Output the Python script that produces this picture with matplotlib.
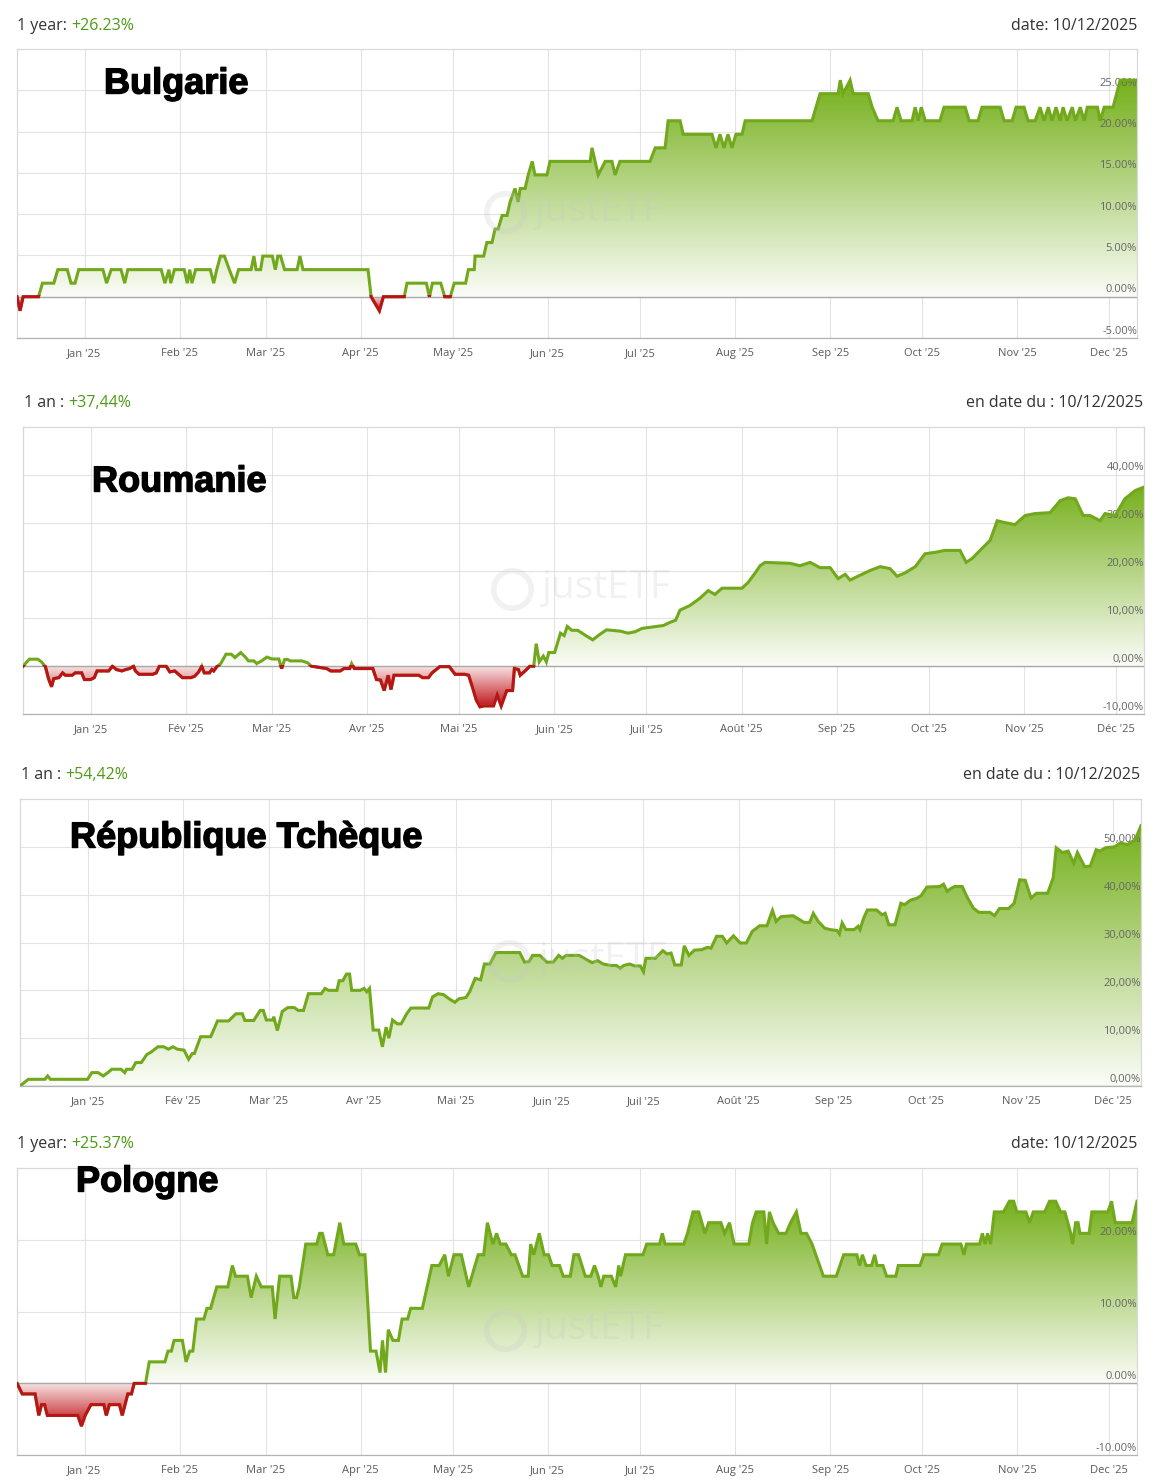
import numpy as np
import pandas as pd
import matplotlib
matplotlib.use('Agg')
import matplotlib.pyplot as plt
import matplotlib.dates as mdates
import matplotlib.patheffects as pe
from matplotlib.colors import to_rgb
from matplotlib.patches import Rectangle
from matplotlib.transforms import blended_transform_factory

W, H = 1152, 1484
plt.rcParams['font.family'] = ['Open Sans', 'DejaVu Sans']

# all series: days since 10/12/2024, performance in %
start_date = '2024-12-10'

# ---- Bulgarie ----
bg_days = [0, 1.0, 2.0, 7.0, 8.3, 12.0, 13.3, 16.4, 17.6, 18.9, 20.1, 28.0, 29.2, 30.7, 33.9, 35.1, 36.1,
           47.0, 48.2, 49.5, 50.1, 51.3, 54.5, 55.5, 56.3, 57.0, 58.2, 63.0, 64.1, 65.1, 66.3, 67.6, 69.2,
           70.9, 72.2, 76.3, 77.2, 77.9, 79.4, 80.1, 83.2, 84.2, 85.0, 85.9, 87.2, 91.3, 92.2, 93.2, 114.4,
           115.4, 118.1, 119.4, 126.2, 127.1, 133.4, 134.4, 135.4, 138.1, 139.4, 141.2, 142.5, 146.2, 147.1,
           149.0, 149.3, 152.1, 153.1, 154.8, 155.8, 156.8, 158.1, 159.7, 160.7, 162.3, 163.3, 164.0, 165.6,
           166.6, 167.9, 168.8, 172.7, 173.7, 186.8, 187.4, 189.4, 191.7, 193.9, 194.9, 196.5, 206.3, 208.0,
           211.2, 212.2, 216.1, 217.1, 226.5, 227.8, 229.1, 230.4, 231.7, 233.0, 234.3, 236.3, 237.3, 259.1,
           261.7, 267.6, 268.3, 269.2, 271.5, 272.5, 277.4, 278.7, 280.6, 285.5, 286.8, 288.1, 291.7, 292.7,
           293.7, 294.7, 296.0, 300.8, 302.1, 309.0, 310.3, 313.2, 314.5, 320.4, 321.7, 324.3, 325.6, 328.2,
           329.5, 331.8, 333.4, 334.7, 336.1, 337.3, 338.6, 340.0, 340.9, 342.2, 343.9, 344.9, 346.5, 347.8,
           348.8, 352.1, 353.0, 354.3, 357.2, 359.5, 365]
bg_vals = [0, -1.7, 0, 0, 1.64, 1.64, 3.28, 3.28, 1.64, 1.64, 3.28, 3.28, 1.64, 3.28, 3.28, 1.64, 3.28,
           3.28, 1.64, 3.28, 1.64, 3.28, 3.28, 1.64, 3.28, 1.64, 3.28, 3.28, 1.64, 3.28, 4.92, 4.92, 3.28,
           1.64, 3.28, 3.28, 4.92, 3.28, 3.28, 4.92, 4.92, 3.28, 4.92, 4.92, 3.28, 3.28, 4.92, 3.28, 3.28,
           0, -1.7, 0, 0, 1.64, 1.64, 0, 1.64, 1.64, 0, 0, 1.64, 1.64, 3.28,
           3.28, 4.92, 4.92, 6.56, 6.56, 8.20, 8.20, 9.84, 9.84, 11.48, 13.11, 11.48, 13.11, 13.11,
           14.75, 16.39, 14.75, 14.75, 16.39, 16.39, 18.03, 14.75, 16.39, 16.39, 14.75, 16.39, 16.39, 18.03,
           18.03, 21.31, 21.31, 19.67, 19.67, 18.03, 19.67, 18.03, 19.67, 18.03, 19.67, 19.67, 21.31, 21.31,
           24.59, 24.59, 26.23, 24.59, 26.23, 24.59, 24.59, 22.95, 21.31, 21.31, 22.95, 21.31, 21.31, 22.95,
           21.31, 22.95, 21.31, 21.31, 22.95, 22.95, 21.31, 21.31, 22.95, 22.95, 21.31, 21.31, 22.95, 22.95,
           21.31, 21.31, 22.95, 21.31, 22.95, 21.31, 22.95, 21.31, 22.95, 21.31, 22.95, 21.31, 22.95, 21.31,
           22.95, 22.95, 21.31, 22.95, 22.95, 26.23, 26.23]

# ---- Roumanie ----
ro_days = [0, 2.05, 4.8, 6.0, 7.3, 8.3, 9.3, 10.0, 11.7, 12.9, 13.8, 16.0, 17.0, 19.1, 20.0, 22.0, 23.2,
           24.1, 27.9, 29.1, 30.4, 32.2, 33.5, 34.7, 36.0, 36.6, 37.8, 42.2, 43.4, 44.4, 46.6, 47.8, 49.4,
           50.3, 51.9, 54.7, 55.9, 57.2, 58.2, 59.0, 60.7, 61.5, 62.1, 63.1, 64.4, 66.1, 67.8, 69.0, 70.9,
           72.4, 73.4, 75.2, 76.1, 77.7, 79.4, 81.1, 83.3, 84.2, 85.2, 86.1, 87.1, 90.8, 92.7, 93.9, 98.9,
           100.2, 103.3, 104.5, 106.4, 107.0, 107.9, 113.9, 115.1, 116.4, 117.6, 118.9, 119.8, 120.8, 123.2,
           128.9, 130.1, 132.0, 133.2, 135.7, 138.8, 140.7, 143.8, 145.1, 146.3, 147.6, 148.8, 150.1, 153.2,
           154.4, 155.7, 157.5, 159.4, 160.0, 161.3, 161.9, 163.8, 165.0, 166.3, 167.1, 168.1, 169.4, 170.4,
           171.2, 173.1, 175.0, 176.2, 177.2, 178.7, 180.6, 183.0, 185.5, 187.5, 190.0, 194.7, 197.0, 199.3,
           201.6, 206.2, 208.5, 210.8, 212.5, 213.9, 217.2, 220.4, 223.1, 225.3, 227.6, 231.8, 234.1, 236.1,
           238.4, 240.0, 241.6, 249.8, 253.0, 256.3, 259.5, 262.8, 265.4, 267.7, 269.3, 272.5, 275.8, 279.1,
           282.3, 284.6, 287.2, 290.5, 293.7, 297.0, 300.2, 305.1, 307.1, 309.0, 311.6, 314.9, 317.2, 319.8,
           323.0, 326.3, 329.5, 334.4, 337.7, 340.3, 342.6, 345.2, 347.4, 350.7, 352.3, 355.6, 358.8, 362.1,
           365]
ro_vals = [0, 1.46, 1.46, 0.9, -0.1, -2.6, -4.3, -2.6, -2.4, -1.4, -1.9, -1.9, -1.4, -1.4, -2.8, -2.8, -2.4,
           -1.0, -1.0, 0, -0.7, -1.0, -0.7, -0.5, 0, -1.0, -1.7, -1.7, -1.4, 0, 0, -1.2, -1.0,
           -1.5, -2.4, -2.4, -2.1, -1.2, 0, -1.4, -1.4, -0.7, -1.0, -0.1, 0.55, 2.5, 2.5, 1.8, 2.85,
           1.9, 1.1, 1.1, 0.55, 1.1, 1.9, 1.5, 1.5, -0.5, 1.4, 1.4, 1.1, 1.1, 0.7, 0, -0.5,
           -1.0, -1.0, -0.5, -0.5, 0.55, -0.5, -0.5, -2.8, -2.9, -5.1, -1.9, -4.9, -1.9, -1.9,
           -1.9, -2.4, -2.4, -1.4, -0.1, -0.1, -1.7, -1.7, -1.9, -4.3, -7.1, -8.5, -8.3, -8.3,
           -6.0, -8.3, -5.1, -5.1, -0.5, -0.7, -1.9, -0.8, 0, 0, 4.7, 0.9, 2.1, 0.9,
           2.85, 2.85, 6.9, 6.4, 8.3, 7.5, 7.5, 6.5, 5.5, 6.5, 7.6, 7.3, 6.9, 7.2,
           7.9, 8.3, 8.5, 9.2, 9.6, 11.7, 12.7, 14.2, 15.8, 15.0, 16.3, 16.3, 16.3, 17.5,
           19.5, 21.0, 21.7, 21.5, 21.0, 21.7, 20.6, 20.6, 18.3, 19.2, 18.0, 19.0, 20.0, 20.8,
           20.4, 18.8, 19.5, 20.8, 23.5, 23.8, 24.2, 24.2, 21.7, 22.5, 24.2, 26.3, 30.4, 30.0,
           29.6, 31.5, 31.9, 32.1, 34.6, 35.2, 35.0, 31.5, 31.5, 30.4, 31.9, 31.5, 35.0, 36.7,
           37.44]

# ---- République Tchèque ----
cz_days = [0, 2.7, 8.1, 9.0, 9.9, 22.0, 23.4, 25.4, 27.1, 28.6, 29.9, 32.9, 34.1, 34.7, 36.5, 37.7, 39.5,
           41.3, 42.5, 44.9, 46.8, 48.3, 49.8, 51.2, 53.4, 54.9, 56.1, 56.8, 58.8, 62.1, 64.3, 67.9, 70.3,
           72.4, 73.2, 76.1, 78.2, 79.2, 80.2, 82.4, 82.6, 83.8, 85.4, 87.2, 89.3, 90.6, 92.3, 93.9, 98.1,
           99.3, 100.5, 103.2, 103.9, 105.1, 106.3, 107.3, 108.0, 110.8, 112.0, 112.9, 113.8, 115.0, 116.8,
           118.0, 119.2, 120.1, 121.3, 122.8, 124.1, 125.9, 127.3, 133.1, 134.3, 136.1, 137.9, 139.8, 141.6,
           142.8, 145.2, 146.4, 148.2, 150.0, 151.2, 153.0, 154.9, 161.5, 162.7, 164.3, 165.7, 166.9, 169.3,
           171.5, 173.6, 175.4, 176.6, 177.8, 179.0, 182.1, 184.5, 186.3, 188.1, 189.9, 192.3, 194.2, 195.4,
           196.6, 198.4, 200.2, 202.0, 203.0, 203.8, 206.9, 209.3, 210.7, 212.0, 213.2, 215.3, 216.3, 217.8,
           219.6, 222.0, 223.8, 225.0, 226.8, 228.7, 230.1, 232.3, 234.5, 236.5, 238.4, 240.8, 243.2, 245.0,
           246.2, 247.8, 251.7, 253.5, 255.3, 257.1, 258.3, 259.9, 262.0, 263.8, 266.0, 266.8, 267.7, 268.9,
           271.6, 272.9, 273.5, 274.7, 275.9, 278.9, 280.7, 281.7, 282.9, 284.9, 286.8, 288.0, 289.8, 292.2,
           293.4, 295.3, 299.5, 300.7, 301.9, 303.1, 304.3, 306.8, 308.3, 310.4, 312.2, 315.8, 317.3, 318.9,
           321.9, 323.7, 325.5, 327.3, 329.2, 331.0, 334.6, 336.4, 337.4, 339.4, 341.3, 343.1, 344.3, 346.7,
           348.5, 350.4, 351.6, 353.4, 356.4, 358.2, 360.6, 363.1, 365]
cz_vals = [0, 1.4, 1.4, 2.1, 1.4, 1.4, 2.8, 2.8, 2.1, 2.8, 3.5, 3.5, 2.8, 3.5, 3.5, 4.9, 4.9,
           6.6, 7.0, 8.2, 8.2, 7.7, 8.2, 7.7, 7.5, 5.6, 6.8, 6.8, 10.3, 10.3, 13.6, 13.6, 15.1,
           15.1, 13.7, 13.7, 15.8, 15.8, 13.8, 13.8, 14.5, 11.6, 15.6, 16.4, 16.4, 15.8, 15.8, 19.3, 19.3,
           20.4, 20.0, 20.0, 22.0, 22.0, 23.4, 23.4, 20.0, 20.0, 20.4, 19.7, 20.4, 11.7, 11.7,
           8.2, 12.3, 10.0, 13.8, 13.0, 13.0, 15.1, 16.3, 16.3, 18.6, 19.3, 19.1, 18.2, 17.5,
           18.2, 18.5, 19.7, 22.5, 22.2, 25.5, 25.5, 27.9, 27.9, 27.9, 25.9, 26.0, 27.3, 27.3,
           25.9, 25.9, 27.3, 26.7, 27.3, 27.3, 27.3, 26.4, 25.8, 26.2, 25.5, 25.2, 25.2, 24.6,
           25.2, 25.5, 25.1, 25.1, 23.9, 26.7, 26.7, 28.3, 27.6, 27.8, 25.3, 25.3, 29.3, 27.3,
           28.4, 28.5, 29.0, 28.8, 31.3, 31.3, 29.9, 31.4, 29.9, 29.9, 32.3, 33.5, 33.5, 36.7,
           34.4, 35.4, 35.6, 34.9, 34.2, 34.2, 36.1, 34.4, 33.0, 32.7, 32.5, 31.8, 34.1, 32.7,
           32.7, 33.4, 32.7, 35.1, 36.8, 36.8, 35.8, 36.1, 33.7, 33.7, 38.2, 37.9, 38.8, 39.3,
           39.8, 41.6, 41.7, 42.2, 40.7, 41.3, 41.7, 41.7, 39.6, 37.2, 36.3, 36.3, 35.6, 37.1,
           37.1, 38.2, 43.1, 43.0, 39.3, 40.3, 40.3, 43.5, 49.8, 48.8, 49.1, 46.6, 48.8, 45.8,
           46.0, 49.4, 49.1, 49.8, 50.0, 50.8, 50.5, 51.5, 54.42]

# ---- Pologne ----
pl_days = [0, 1.7, 5.9, 7.1, 8.0, 9.0, 9.9, 19.8, 21.0, 22.2, 24.1, 28.3, 29.1, 30.1, 33.4, 34.3, 36.1,
           37.3, 38.2, 41.9, 43.1, 48.2, 49.2, 50.3, 51.2, 53.9, 55.1, 56.3, 57.3, 58.5, 60.9, 61.9, 63.1,
           65.1, 68.7, 70.2, 71.2, 75.1, 76.3, 78.0, 79.6, 83.2, 84.1, 85.6, 89.3, 90.2, 91.1, 92.0, 94.1,
           97.7, 98.6, 99.5, 101.3, 103.2, 105.2, 106.5, 110.4, 111.6, 113.4, 115.2, 117.0, 118.3, 119.1,
           120.1, 121.0, 122.5, 124.3, 125.5, 127.3, 128.3, 132.1, 135.2, 137.6, 139.4, 140.6, 142.4, 144.8,
           147.2, 150.3, 152.1, 153.3, 155.1, 156.3, 157.5, 159.3, 161.1, 162.3, 164.8, 166.6, 167.4, 168.4,
           170.2, 171.8, 173.2, 174.4, 176.8, 178.0, 180.3, 181.5, 183.0, 185.2, 187.0, 188.2, 189.4, 190.3,
           191.2, 193.7, 195.1, 196.1, 196.7, 198.3, 204.0, 205.2, 209.4, 210.3, 211.2, 217.3, 218.5, 220.3,
           222.2, 224.2, 225.4, 229.4, 230.6, 232.2, 233.7, 238.5, 239.7, 240.9, 243.4, 244.3, 245.2, 246.4,
           248.2, 250.6, 252.1, 254.0, 255.5, 257.3, 259.1, 262.8, 267.0, 269.4, 273.7, 274.6, 275.5, 276.7,
           278.5, 279.5, 280.3, 282.2, 283.4, 286.4, 287.2, 294.3, 295.5, 300.3, 301.5, 307.6, 308.6, 309.4,
           313.7, 314.6, 315.5, 316.3, 317.3, 318.5, 321.5, 323.4, 324.8, 325.8, 328.8, 330.0, 331.2, 334.9,
           336.5, 338.5, 340.1, 341.5, 343.4, 344.0, 345.0, 345.8, 346.4, 349.4, 350.3, 355.5, 356.7, 357.9,
           363.4, 365]
pl_vals = [0, -1.49, -1.49, -4.48, -2.98, -2.98, -4.48, -4.48, -5.97, -4.48, -2.98, -2.98, -4.48, -2.98,
           -2.98, -4.48, -1.49, -1.49, 0, 0, 2.98, 2.98, 4.48, 4.48, 5.97, 5.97, 2.98, 4.48, 4.48, 8.95,
           8.95, 10.44, 10.44, 13.43, 13.43, 16.41, 14.92, 14.92, 11.94, 14.92, 13.43, 13.43, 8.95, 14.92,
           14.92, 11.94, 11.94, 13.43, 19.40, 19.40, 20.89, 20.89, 17.91, 17.91, 22.38, 19.40, 19.40, 17.91,
           17.91, 4.48, 4.48, 1.49, 5.97, 1.49, 7.46, 5.97, 5.97, 8.95, 8.95, 10.44, 10.44, 16.41, 16.41,
           17.91, 14.92, 17.91, 17.91, 13.43, 17.91, 17.91, 22.38, 19.40, 20.89, 19.40, 19.40, 17.91, 17.91,
           14.92, 14.92, 19.40, 17.91, 20.89, 17.91, 17.91, 16.41, 16.41, 14.92, 14.92, 17.91, 17.91, 14.92,
           14.92, 16.41, 14.92, 13.43, 14.92, 14.92, 13.43, 16.41, 14.92, 17.91, 17.91, 19.40, 19.40, 20.89,
           19.40, 19.40, 20.89, 23.88, 23.88, 20.89, 22.38, 22.38, 20.89, 22.38, 19.40, 19.40, 22.38, 23.88,
           23.88, 19.40, 23.88, 22.38, 20.89, 20.89, 22.38, 23.88, 20.89, 20.89, 19.40, 14.92, 14.92, 17.91,
           17.91, 16.41, 17.91, 16.41, 16.41, 17.91, 16.41, 16.41, 14.92, 14.92, 16.41, 16.41, 17.91, 17.91,
           19.40, 19.40, 17.91, 19.40, 19.40, 20.89, 19.40, 20.89, 19.40, 23.88, 23.88, 25.37, 25.37, 23.88,
           23.88, 22.38, 23.88, 23.88, 25.37, 25.37, 23.88, 23.88, 20.89, 19.40, 22.38, 22.38, 20.89, 20.89,
           23.88, 23.88, 25.37, 22.38, 22.38, 25.37]

months_en = ["Jan '25", "Feb '25", "Mar '25", "Apr '25", "May '25", "Jun '25", "Jul '25", "Aug '25",
             "Sep '25", "Oct '25", "Nov '25", "Dec '25"]
months_fr = ["Jan '25", "Fév '25", "Mar '25", "Avr '25", "Mai '25", "Juin '25", "Juil '25", "Août '25",
             "Sep '25", "Oct '25", "Nov '25", "Déc '25"]

bg_yticks = [-5, 0, 5, 10, 15, 20, 25]
bg_ylabels = ['-5.00%', '0.00%', '5.00%', '10.00%', '15.00%', '20.00%', '25.00%']
ro_yticks = [-10, 0, 10, 20, 30, 40]
ro_ylabels = ['-10,00%', '0,00%', '10,00%', '20,00%', '30,00%', '40,00%']
cz_yticks = [0, 10, 20, 30, 40, 50]
cz_ylabels = ['0,00%', '10,00%', '20,00%', '30,00%', '40,00%', '50,00%']
pl_yticks = [-10, 0, 10, 20]
pl_ylabels = ['-10.00%', '0.00%', '10.00%', '20.00%']

GREEN_LINE = '#71a81c'
GREEN_FILL = '#76b01c'
RED_LINE = '#bd1219'
RED_FILL = '#c0141b'
GRID = '#e3e3e3'
TXT = '#333333'
TICK = '#5a5a5a'


def px_axes(fig, left, top, right, bottom):
    return fig.add_axes([left / W, 1 - bottom / H, (right - left) / W, (bottom - top) / H])


def gradient(ax, xlim, lo, hi, color, f0, f1, top_strong, clip):
    n = 256
    t = np.linspace(0, 1, n)[:, None]
    if not top_strong:
        t = 1 - t
    f = f0 + (f1 - f0) * t
    rgb = np.array(to_rgb(color))
    img = (1 - f)[..., None] * np.ones(3) + f[..., None] * rgb
    img = np.repeat(img, 2, axis=1)
    im = ax.imshow(img, extent=[xlim[0], xlim[1], lo, hi], origin='lower', aspect='auto',
                   interpolation='bilinear', zorder=1)
    im.set_clip_path(clip.get_paths()[0], clip.get_transform())


def draw_panel(ax, days, vals, ylim, yticks, ylabels, xlabels):
    x = mdates.date2num(np.datetime64(start_date)) + np.asarray(days, float)
    y = np.asarray(vals, float)
    xlim = (x.min(), x.max())

    pos = ax.fill_between(x, 0, np.maximum(y, 0), color='none', lw=0)
    gradient(ax, xlim, 0, y.max(), GREEN_FILL, 0.03, 1.0, True, pos)
    if y.min() < 0:
        neg = ax.fill_between(x, 0, np.minimum(y, 0), color='none', lw=0)
        gradient(ax, xlim, y.min(), 0, RED_FILL, 0.12, 1.0, False, neg)

    ax.axhline(0, color='#a8a8a8', lw=1.0, zorder=1.6)

    ax.plot(x, y, color=GREEN_LINE, lw=2.2, zorder=4, solid_joinstyle='miter')
    if y.min() < 0:
        eps = (ylim[1] - ylim[0]) / 289 * 1.6
        r, = ax.plot(x, y, color=RED_LINE, lw=2.2, zorder=4.1, solid_joinstyle='miter')
        r.set_clip_path(Rectangle((xlim[0], ylim[0] - 100), xlim[1] - xlim[0], 100 - ylim[0] + eps,
                                  transform=ax.transData))

    ax.set_xlim(*xlim)
    ax.set_ylim(*ylim)

    months = mdates.date2num(pd.date_range('2025-01-01', '2025-12-01', freq='MS'))
    ax.set_xticks(months)
    ax.set_xticklabels(xlabels, fontsize=8, color=TICK)
    ax.set_yticks(yticks)
    ax.tick_params(axis='x', length=0, pad=7)
    ax.tick_params(axis='y', length=0, labelleft=False)
    ax.grid(True, color=GRID, lw=0.8, zorder=0)
    ax.set_axisbelow(True)
    for s in ax.spines.values():
        s.set_color('#d9d9d9')
        s.set_linewidth(0.9)
    ax.spines['bottom'].set_color('#b3b3b3')

    tr = blended_transform_factory(ax.transAxes, ax.transData)
    for v, lbl in zip(yticks, ylabels):
        ax.annotate(lbl, xy=(1, v), xycoords=tr, xytext=(0, 1), textcoords='offset points',
                    ha='right', va='bottom', fontsize=8, color='#666666', zorder=2)

    # justETF watermark
    ax.plot([0.436], [0.436], marker='o', ms=27, mfc='none', mec='#c8c8c8', mew=4, alpha=0.25,
            transform=ax.transAxes, zorder=5)
    ax.text(0.462, 0.44, 'justETF', transform=ax.transAxes, fontsize=28, color='#c8c8c8',
            alpha=0.25, ha='left', va='center', zorder=5)


def header(fig, left, right, yc, label, perf, date_txt):
    t1 = fig.text(left / W, 1 - yc / H, label, fontsize=11.5, color=TXT, ha='left', va='center')
    fig.axes[0].annotate(perf, xy=(1, 0.5), xycoords=t1, xytext=(3.2, 0), textcoords='offset points',
                         fontsize=11.5, color='#4f9a16', ha='left', va='center', annotation_clip=False)
    fig.text(right / W, 1 - yc / H, date_txt, fontsize=11.5, color=TXT, ha='right', va='center')


def title(fig, left, yc, txt):
    fig.text(left / W, 1 - yc / H, txt, fontsize=26, fontweight='bold', color='black',
             family='Liberation Sans', ha='left', va='center', zorder=10,
             path_effects=[pe.withStroke(linewidth=1.0, foreground='black')])


fig = plt.figure(figsize=(W / 100, H / 100), dpi=100)
fig.patch.set_facecolor('white')

ax1 = px_axes(fig, 17, 49, 1137, 338)
ax2 = px_axes(fig, 23, 427, 1144, 714)
ax3 = px_axes(fig, 20, 799, 1141, 1086)
ax4 = px_axes(fig, 17, 1168, 1137, 1455)

draw_panel(ax1, bg_days, bg_vals, (-5, 30), bg_yticks, bg_ylabels, months_en)
draw_panel(ax2, ro_days, ro_vals, (-10, 50), ro_yticks, ro_ylabels, months_fr)
draw_panel(ax3, cz_days, cz_vals, (0, 60), cz_yticks, cz_ylabels, months_fr)
draw_panel(ax4, pl_days, pl_vals, (-10, 30), pl_yticks, pl_ylabels, months_en)

header(fig, 17, 1137, 26, '1 year:', '+26.23%', 'date: 10/12/2025')
header(fig, 24, 1143, 403, '1 an :', '+37,44%', 'en date du : 10/12/2025')
header(fig, 21, 1140, 775, '1 an :', '+54,42%', 'en date du : 10/12/2025')
header(fig, 17, 1137, 1144, '1 year:', '+25.37%', 'date: 10/12/2025')

title(fig, 104, 84, 'Bulgarie')
title(fig, 92, 482, 'Roumanie')
title(fig, 70, 838, 'République Tchèque')
title(fig, 76, 1182, 'Pologne')

fig.savefig('out.png', dpi=100)
